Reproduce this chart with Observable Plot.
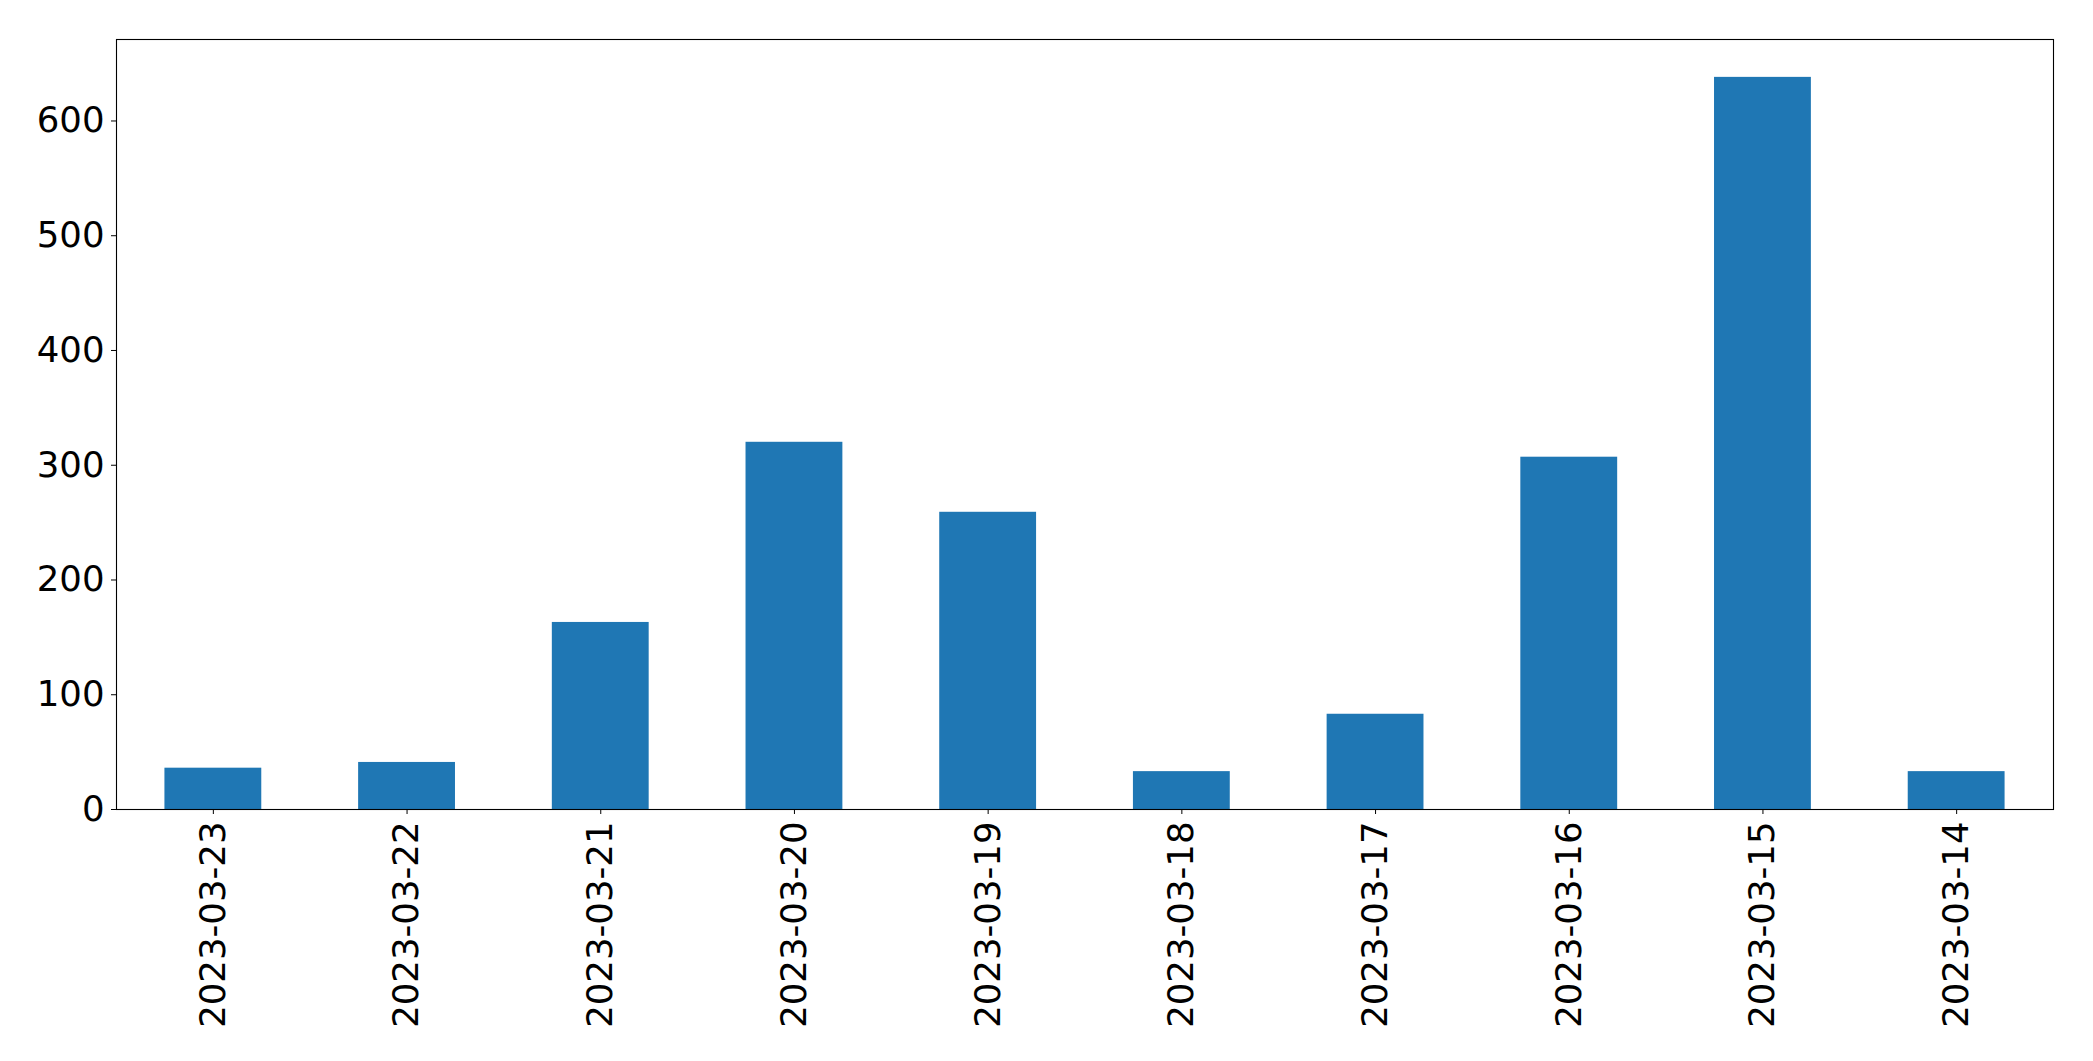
<!DOCTYPE html>
<html>
<head>
<meta charset="utf-8">
<script src="https://cdn.jsdelivr.net/npm/d3@7"></script>
<script src="https://cdn.jsdelivr.net/npm/@observablehq/plot@0.6"></script>
<style>
  html, body { margin: 0; padding: 0; background: #fff; }
  #chart svg { display: block; }
</style>
</head>
<body>
<div id="chart"></div>
<script>
const dates = ["2023-03-23","2023-03-22","2023-03-21","2023-03-20","2023-03-19","2023-03-18","2023-03-17","2023-03-16","2023-03-15","2023-03-14"];
const counts = [36, 41, 163, 320, 259, 33, 83, 307, 638, 33];
const yTicks = [0, 100, 200, 300, 400, 500, 600];

const data = dates.map((d, i) => ({date: d, count: counts[i]}));

const chart = Plot.plot({
  width: 2093,
  height: 1061,
  marginLeft: 116,
  marginRight: 40,
  marginTop: 39,
  marginBottom: 252,
  style: {fontFamily: "DejaVu Sans", fontSize: "35.5px", color: "black", background: "white"},
  x: {domain: dates, type: "band", round: false, paddingInner: 0.5, paddingOuter: 0.25, label: null, tickRotate: -90, tickSize: 5, tickPadding: 7},
  y: {domain: [0, 671], ticks: yTicks, label: null, tickSize: 5, tickPadding: 7},
  marks: [
    Plot.barY(data, {x: "date", y: "count", fill: "#1f77b4"}),
    Plot.frame({stroke: "black", strokeWidth: 1.1})
  ]
});
document.getElementById("chart").appendChild(chart);
</script>
</body>
</html>
